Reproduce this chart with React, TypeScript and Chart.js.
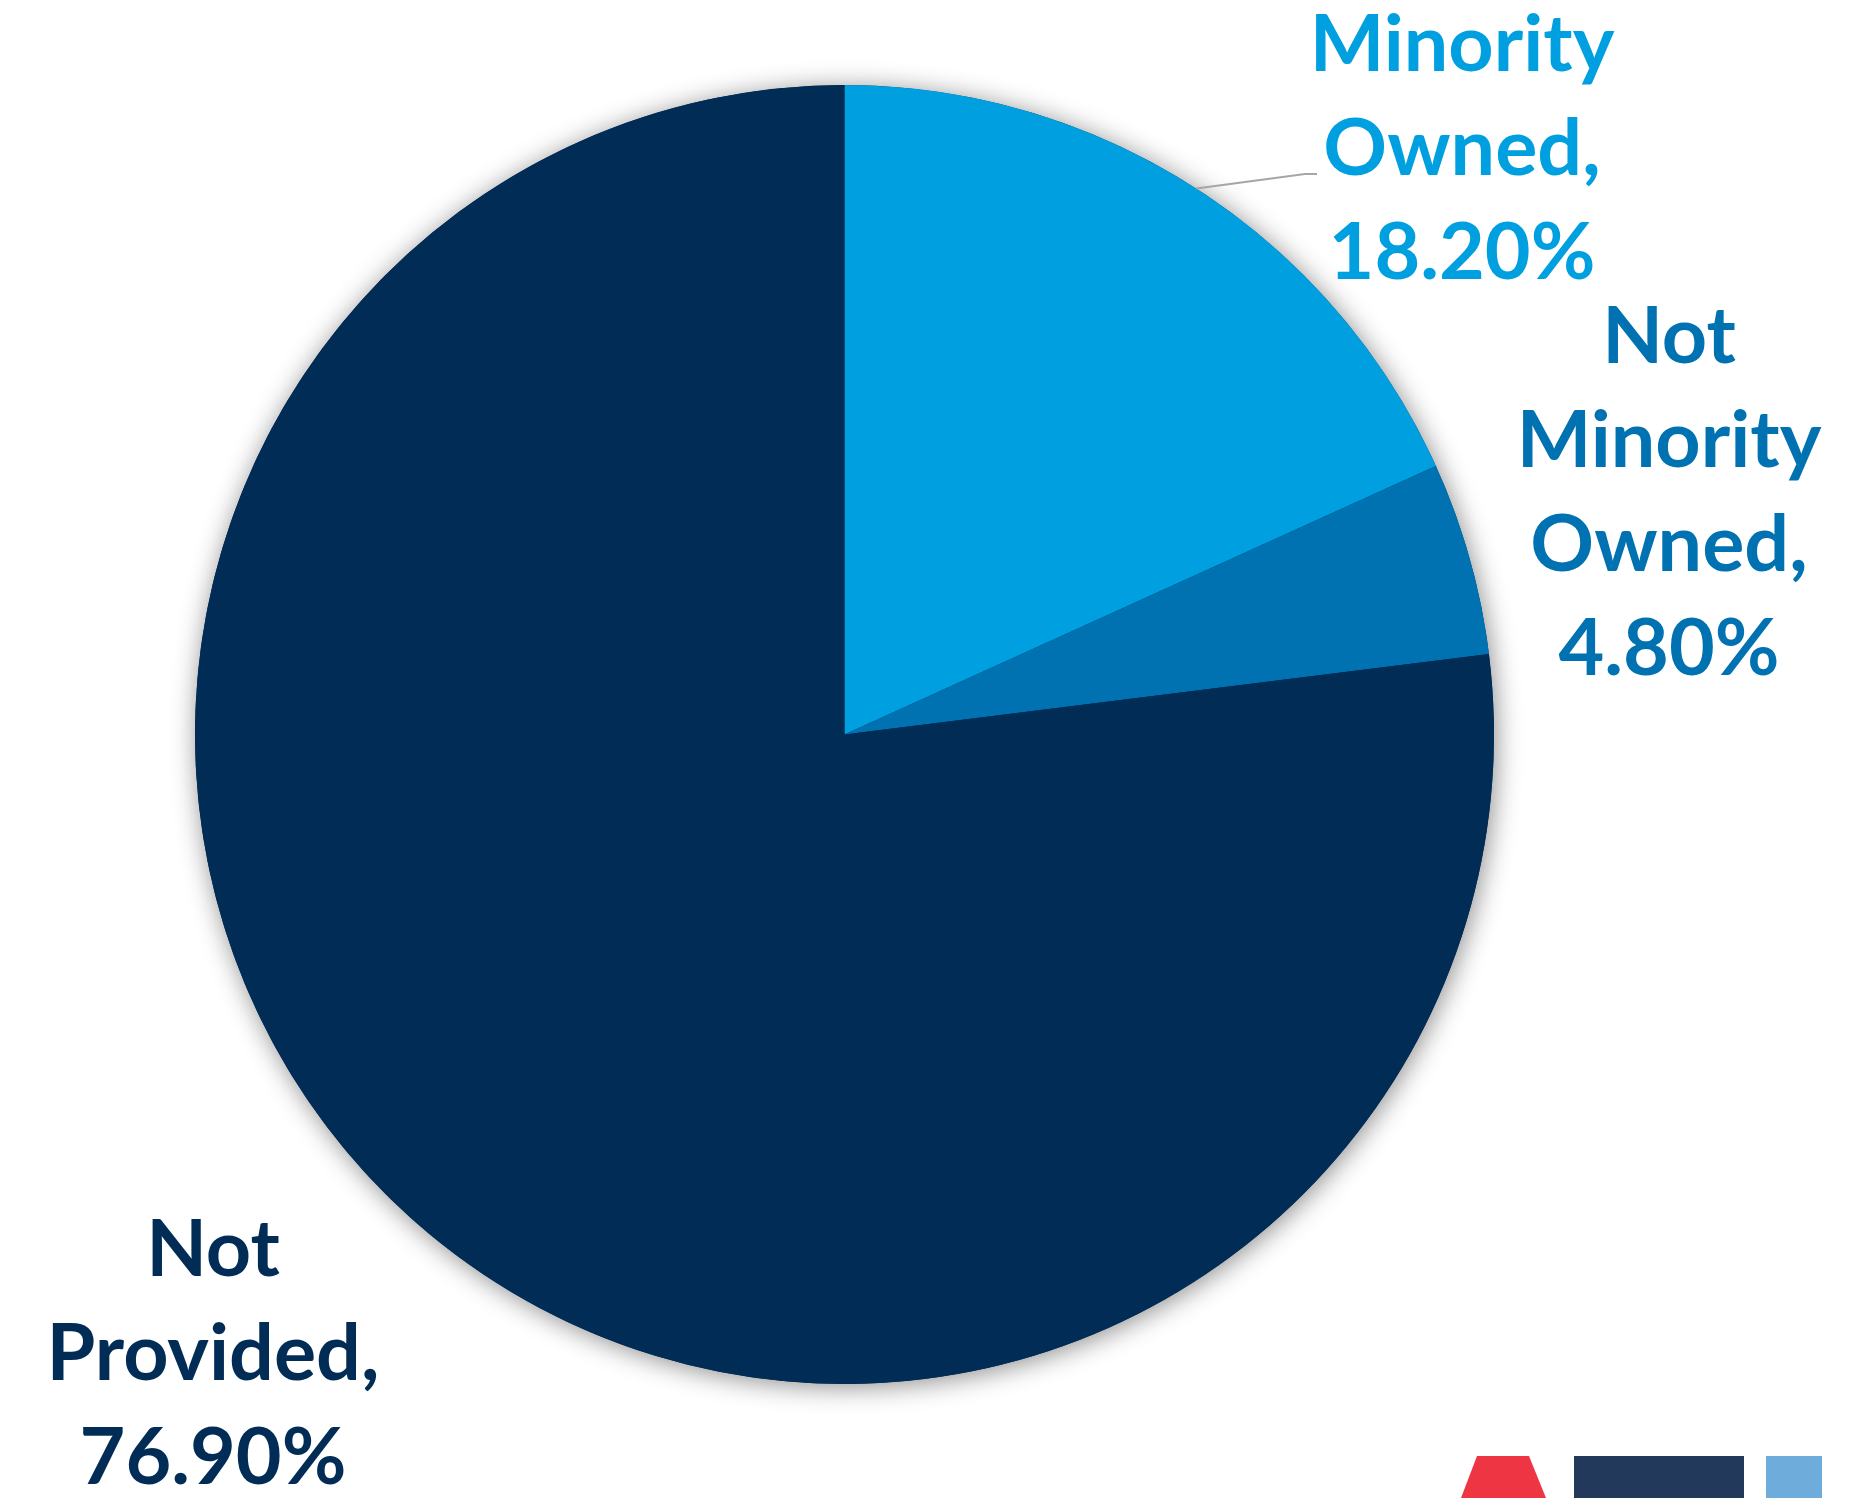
import React, { useEffect, useRef } from "react";
import { Chart, registerables } from "chart.js";

Chart.register(...registerables);

// ---- data ----
const categories = ["Minority Owned", "Not Minority Owned", "Not Provided"];
const shares = [18.2, 4.8, 76.9];
const sliceColors = ["#009FDF", "#0071B1", "#002C55"];

// ---- layout (label anchors: centre x, first baseline y) ----
const labelAnchors = [
  { x: 1462, y: 71 },
  { x: 1669, y: 363 },
  { x: 213, y: 1276 },
];
const LINE_H = 104;
const FONT = "bold 79px Lato";
const leaderBend = [{ x: 1305, y: 174 }, { x: 1317, y: 174 }];

const W = 1871;
const H = 1498;

function labelLines(name: string, v: number): string[] {
  const words = name.split(" ");
  words[words.length - 1] = words[words.length - 1] + ",";
  return [...words, v.toFixed(2) + "%"];
}

const shadowPlugin = {
  id: "pieShadow",
  beforeDatasetsDraw(chart: any) {
    const arc = chart.getDatasetMeta(0).data[0];
    if (!arc) return;
    const ctx = chart.ctx;
    ctx.save();
    ctx.shadowColor = "rgba(0,0,0,0.45)";
    ctx.shadowBlur = 26;
    ctx.shadowOffsetX = 2;
    ctx.shadowOffsetY = 3;
    ctx.fillStyle = "#002C55";
    ctx.beginPath();
    ctx.arc(arc.x, arc.y, arc.outerRadius, 0, Math.PI * 2);
    ctx.fill();
    ctx.restore();
  },
};

const labelPlugin = {
  id: "sliceLabels",
  afterDatasetsDraw(chart: any) {
    const ctx = chart.ctx;
    const meta = chart.getDatasetMeta(0);
    ctx.save();
    // leader line for first slice
    const a0 = meta.data[0];
    const mid = (a0.startAngle + a0.endAngle) / 2;
    const sx = a0.x + Math.cos(mid) * a0.outerRadius;
    const sy = a0.y + Math.sin(mid) * a0.outerRadius;
    ctx.strokeStyle = "#A6A6A6";
    ctx.lineWidth = 2;
    ctx.beginPath();
    ctx.moveTo(sx, sy);
    leaderBend.forEach((p) => ctx.lineTo(p.x, p.y));
    ctx.stroke();

    ctx.font = FONT;
    ctx.textAlign = "center";
    ctx.textBaseline = "alphabetic";
    categories.forEach((c, i) => {
      const lines = labelLines(c, shares[i]);
      ctx.fillStyle = sliceColors[i];
      lines.forEach((ln, j) => {
        ctx.fillText(ln, labelAnchors[i].x, labelAnchors[i].y + j * LINE_H);
      });
    });
    ctx.restore();
  },
};

const decorPlugin = {
  id: "decor",
  afterDraw(chart: any) {
    const ctx = chart.ctx;
    ctx.save();
    ctx.fillStyle = "#EE3543";
    ctx.beginPath();
    ctx.moveTo(1477, 1456);
    ctx.lineTo(1529, 1456);
    ctx.lineTo(1546, 1498);
    ctx.lineTo(1461, 1498);
    ctx.closePath();
    ctx.fill();
    ctx.fillStyle = "#22395B";
    ctx.fillRect(1574, 1456, 170, 42);
    ctx.fillStyle = "#6EADDB";
    ctx.fillRect(1766, 1456, 56, 42);
    ctx.restore();
  },
};

export default function App() {
  const ref = useRef<HTMLCanvasElement | null>(null);
  useEffect(() => {
    document.body.style.margin = "0";
    const canvas = ref.current!;
    const chart = new Chart(canvas, {
      type: "pie",
      data: {
        labels: categories,
        datasets: [
          {
            data: shares,
            backgroundColor: sliceColors,
            borderWidth: 0,
          },
        ],
      },
      options: {
        responsive: false,
        animation: false,
        devicePixelRatio: 1,
        layout: { padding: { left: 195, right: 377, top: 85, bottom: 114 } },
        plugins: {
          legend: { display: false },
          tooltip: { enabled: false },
        },
      },
      plugins: [shadowPlugin, labelPlugin, decorPlugin],
    });
    if ((document as any).fonts) {
      (document as any).fonts.load(FONT).then(() => chart.draw());
    }
    return () => chart.destroy();
  }, []);
  return (
    <div style={{ position: "absolute", left: 0, top: 0, width: W, height: H, background: "#fff" }}>
      <canvas ref={ref} width={W} height={H} style={{ width: W, height: H, display: "block" }} />
    </div>
  );
}
